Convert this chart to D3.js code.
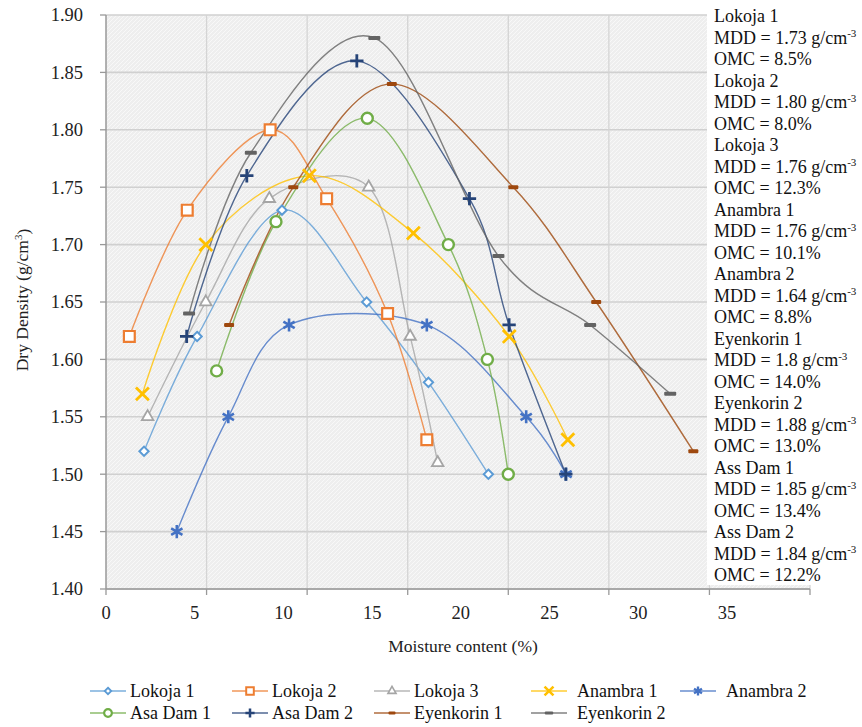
<!DOCTYPE html>
<html><head><meta charset="utf-8">
<script src="https://cdn.jsdelivr.net/npm/d3@7"></script>
</head>
<body style="margin:0;background:#fff">
<svg id="c" width="862" height="727"></svg>
<script>
// ---- data ----
const seriesNames = ["Lokoja 1","Lokoja 2","Lokoja 3","Anambra 1","Anambra 2","Asa Dam 1","Asa Dam 2","Eyenkorin 1","Eyenkorin 2"];
const lokoja1X = [1.89,4.53,8.75,12.96,16.03,19.01];
const lokoja1Y = [1.52,1.62,1.73,1.65,1.58,1.50];
const lokoja2X = [1.16,4.04,8.16,10.97,14.0,15.95];
const lokoja2Y = [1.62,1.73,1.80,1.74,1.64,1.53];
const lokoja3X = [2.07,4.96,8.12,13.06,15.12,16.49];
const lokoja3Y = [1.55,1.65,1.74,1.75,1.62,1.51];
const anambra1X = [1.81,4.96,10.11,15.28,20.05,22.96];
const anambra1Y = [1.57,1.70,1.76,1.71,1.62,1.53];
const anambra2X = [3.52,6.08,9.1,15.95,20.89,22.87];
const anambra2Y = [1.45,1.55,1.63,1.63,1.55,1.50];
const asaDam1X = [5.5,8.45,12.99,17.02,18.96,20.0];
const asaDam1Y = [1.59,1.72,1.81,1.70,1.60,1.50];
const asaDam2X = [4.01,7.0,12.47,18.07,20.04,22.86];
const asaDam2Y = [1.62,1.76,1.86,1.74,1.63,1.50];
const eyenkorin1X = [6.12,9.31,14.21,20.25,24.37,29.2];
const eyenkorin1Y = [1.63,1.75,1.84,1.75,1.65,1.52];
const eyenkorin2X = [4.13,7.2,13.34,19.51,24.07,28.05];
const eyenkorin2Y = [1.64,1.78,1.88,1.69,1.63,1.57];
const seriesX = [lokoja1X,lokoja2X,lokoja3X,anambra1X,anambra2X,asaDam1X,asaDam2X,eyenkorin1X,eyenkorin2X];
const seriesY = [lokoja1Y,lokoja2Y,lokoja3Y,anambra1Y,anambra2Y,asaDam1Y,asaDam2Y,eyenkorin1Y,eyenkorin2Y];
const yTicks = [1.40,1.45,1.50,1.55,1.60,1.65,1.70,1.75,1.80,1.85,1.90];
const xGridTicks = [0,5,10,15,20,25,30,35];
const xTickLabels = [0,5,10,15,20,25,30,35];
const notes = [
  ["Lokoja 1","1.73","8.5%"],["Lokoja 2","1.80","8.0%"],["Lokoja 3","1.76","12.3%"],
  ["Anambra 1","1.76","10.1%"],["Anambra 2","1.64","8.8%"],["Eyenkorin 1","1.8","14.0%"],
  ["Eyenkorin 2","1.88","13.0%"],["Ass Dam 1","1.85","13.4%"],["Ass Dam 2","1.84","12.2%"]
];

// ---- styles ----
const colors = ["#5b9bd5","#ed7d31","#a5a5a5","#ffc000","#4472c4","#70ad47","#264478","#9e480e","#636363"];
const markers = ["diamond","square","triangle","times","asterisk","circle","plus","dash","dash2"];
const FONT = "Liberation Serif";

const svg = d3.select("#c");
const L=106, T=15, B=589, R=810;
const x = d3.scaleLinear().domain([0,35]).range([L,R]);
const xLab = d3.scaleLinear().domain([0,35]).range([106,727]);
const y = d3.scaleLinear().domain([1.40,1.90]).range([B,T]);

// plot background with texture
const defs = svg.append("defs");
const pat = defs.append("pattern").attr("id","tex").attr("width",4).attr("height",4).attr("patternUnits","userSpaceOnUse");
pat.append("rect").attr("width",4).attr("height",4).attr("fill","#eeeeee");
pat.append("path").attr("d","M0,4L4,0").attr("stroke","#f8f8f8").attr("stroke-width",1);
svg.append("rect").attr("x",L).attr("y",T).attr("width",R-L).attr("height",B-T).attr("fill","url(#tex)");

// grid
svg.append("g").selectAll("line").data(yTicks).join("line")
  .attr("x1",L).attr("x2",R).attr("y1",d=>y(d)).attr("y2",d=>y(d))
  .attr("stroke","#d0d0d0").attr("stroke-width",1.6);
svg.append("g").selectAll("line").data(xGridTicks.slice(1)).join("line")
  .attr("x1",d=>x(d)).attr("x2",d=>x(d)).attr("y1",T).attr("y2",B)
  .attr("stroke","#d4d4d4").attr("stroke-width",1.3);

// series
const line = d3.line().curve(d3.curveCardinal.tension(0)).x(d=>x(d[0])).y(d=>y(d[1]));
function symPath(type, scale){
  const s = scale||1;
  const m = {diamond:[d3.symbolDiamond2,55],square:[d3.symbolSquare2,150],triangle:[d3.symbolTriangle2,95],
    times:[d3.symbolTimes,110],asterisk:[d3.symbolAsterisk,120],circle:[d3.symbolCircle,95],plus:[d3.symbolPlus,60]}[type];
  return d3.symbol().type(m[0]).size(m[1]*s*s)();
}
function drawMarker(g, type, color, scale){
  const s = scale||1;
  if(type==="dash"||type==="dash2"){
    const w = (type==="dash"?10:12)*s;
    g.append("rect").attr("x",-w/2).attr("y",-2*s).attr("width",w).attr("height",4*s).attr("rx",1).attr("fill",color);
  } else {
    const sw = {diamond:2,square:2.2,triangle:1.8,times:2.8,asterisk:2.6,circle:2.4,plus:2.8}[type];
    g.append("path").attr("d",symPath(type,s))
      .attr("fill",(type==="times"||type==="asterisk"||type==="plus")?"none":"#fff")
      .attr("stroke",color).attr("stroke-width",sw*Math.min(1,s+0.2));
  }
}
const gS = svg.append("g");
seriesNames.forEach((n,i)=>{
  const pts = seriesX[i].map((v,j)=>[v,seriesY[i][j]]);
  gS.append("path").attr("d",line(pts)).attr("fill","none").attr("stroke",colors[i])
    .attr("stroke-width",1.4).attr("stroke-opacity",0.8);
});
seriesNames.forEach((n,i)=>{
  const pts = seriesX[i].map((v,j)=>[v,seriesY[i][j]]);
  pts.forEach(p=>{
    const g = gS.append("g").attr("transform",`translate(${x(p[0])},${y(p[1])})`);
    drawMarker(g, markers[i], colors[i], 1);
  });
});

// white note box
svg.append("rect").attr("x",707).attr("y",0).attr("width",155).attr("height",585).attr("fill","#fff");

// axes
svg.append("line").attr("x1",L).attr("x2",L).attr("y1",T).attr("y2",B).attr("stroke","#999").attr("stroke-width",1.5);
svg.append("g").selectAll("line").data(yTicks).join("line")
  .attr("x1",L-6).attr("x2",L).attr("y1",d=>y(d)).attr("y2",d=>y(d)).attr("stroke","#999").attr("stroke-width",1.3);
svg.append("line").attr("x1",L).attr("x2",R).attr("y1",B).attr("y2",B).attr("stroke","#999").attr("stroke-width",1.5);
svg.append("g").selectAll("line").data(xGridTicks).join("line")
  .attr("x1",d=>x(d)).attr("x2",d=>x(d)).attr("y1",B).attr("y2",B+6).attr("stroke","#999").attr("stroke-width",1.3);

// tick labels
svg.append("g").selectAll("text").data(yTicks).join("text")
  .attr("x",83).attr("y",d=>y(d)).attr("dy","0.35em").attr("text-anchor","end")
  .attr("font-family",FONT).attr("font-size",18.5).attr("fill","#222").text(d=>d.toFixed(2));
svg.append("g").selectAll("text").data(xTickLabels).join("text")
  .attr("x",d=>xLab(d)).attr("y",613).attr("dy","0.35em").attr("text-anchor","middle")
  .attr("font-family",FONT).attr("font-size",18.5).attr("fill","#222").text(d=>d);

// axis titles
svg.append("text").attr("x",463).attr("y",646).attr("dy","0.35em").attr("text-anchor","middle")
  .attr("font-family",FONT).attr("font-size",17.5).attr("fill","#222").text("Moisture content (%)");
const yt = svg.append("text").attr("transform","translate(22,300) rotate(-90)").attr("text-anchor","middle")
  .attr("font-family",FONT).attr("font-size",17.5).attr("fill","#222").attr("dy","0.35em");
yt.append("tspan").text("Dry Density (g/cm");
yt.append("tspan").attr("font-size",11).attr("dy","-0.6em").text("3");
yt.append("tspan").attr("dy","0.45em").text(")");

// notes
const nt = svg.append("g");
notes.forEach((n,i)=>{
  const y0 = 16 + i*3*21.5;
  nt.append("text").attr("x",714).attr("y",y0).attr("dy","0.35em")
    .attr("font-family",FONT).attr("font-size",18).attr("fill","#111").text(n[0]);
  const t = nt.append("text").attr("x",714).attr("y",y0+21.5).attr("dy","0.35em")
    .attr("font-family",FONT).attr("font-size",18).attr("fill","#111");
  t.append("tspan").text("MDD = "+n[1]+" g/cm");
  t.append("tspan").attr("font-size",11).attr("dy","-0.6em").text("-3");
  nt.append("text").attr("x",714).attr("y",y0+43).attr("dy","0.35em")
    .attr("font-family",FONT).attr("font-size",18).attr("fill","#111").text("OMC = "+n[2]);
});

// legend
const legPos = [[90,691],[232,691],[374,691],[531,691],[680,691],[90,713],[232,713],[374,713],[531,713]];
const lg = svg.append("g");
seriesNames.forEach((n,i)=>{
  const [lx,ly] = legPos[i];
  lg.append("line").attr("x1",lx).attr("x2",lx+36).attr("y1",ly).attr("y2",ly)
    .attr("stroke",colors[i]).attr("stroke-width",1.4).attr("stroke-opacity",0.8);
  const g = lg.append("g").attr("transform",`translate(${lx+18},${ly})`);
  drawMarker(g, markers[i], colors[i], 0.7);
  lg.append("text").attr("x",lx+(i===3||i===4||i===8?46:40)).attr("y",ly).attr("dy","0.35em")
    .attr("font-family",FONT).attr("font-size",18).attr("fill","#111").text(n);
});
</script>
</body></html>
